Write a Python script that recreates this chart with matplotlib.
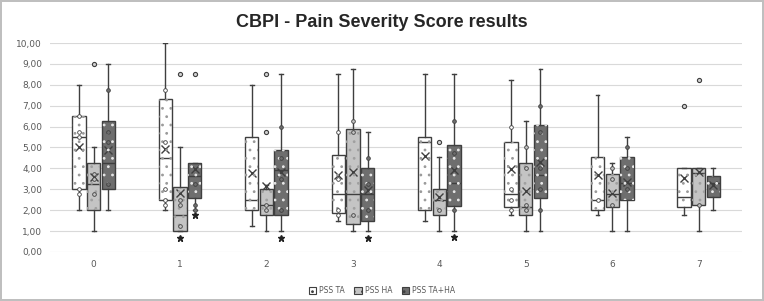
import matplotlib.pyplot as plt
from matplotlib.patches import Patch, Rectangle

# Categorias (sesiones) y series
categories = ["0", "1", "2", "3", "4", "5", "6", "7"]
series = ["PSS TA", "PSS HA", "PSS TA+HA"]

# Estadisticas: una lista por serie, un valor por categoria
q1 = {
    "PSS TA":    [3.0, 2.5, 2.0, 1.87, 2.0, 2.13, 2.0, 2.13],
    "PSS HA":    [2.0, 1.0, 1.75, 1.36, 1.75, 1.75, 2.13, 2.25],
    "PSS TA+HA": [3.0, 2.6, 1.75, 1.5, 2.19, 2.6, 2.5, 2.63],
}
median = {
    "PSS TA":    [5.5, 4.5, 2.5, 2.75, 5.28, 2.75, 2.5, 2.63],
    "PSS HA":    [3.25, 1.75, 2.25, 2.75, 2.5, 2.13, 2.75, 3.8],
    "PSS TA+HA": [4.25, 3.65, 3.9, 2.75, 3.28, 3.68, 3.3, 3.3],
}
q3 = {
    "PSS TA":    [6.5, 7.3, 5.5, 4.63, 5.5, 5.28, 4.53, 4.0],
    "PSS HA":    [4.25, 3.1, 3.0, 5.9, 3.0, 4.25, 3.75, 4.0],
    "PSS TA+HA": [6.25, 4.25, 4.9, 4.0, 5.13, 6.08, 4.53, 3.65],
}
whis_lo = {
    "PSS TA":    [2.0, 2.0, 1.25, 1.5, 1.5, 1.75, 1.75, 1.75],
    "PSS HA":    [1.0, 1.0, 1.0, 1.0, 1.0, 1.0, 1.0, 1.0],
    "PSS TA+HA": [2.0, 2.0, 1.0, 1.0, 1.0, 1.0, 1.0, 2.0],
}
whis_hi = {
    "PSS TA":    [8.0, 10.0, 8.0, 8.5, 8.5, 8.25, 7.5, 4.0],
    "PSS HA":    [5.0, 5.0, 3.2, 8.75, 4.55, 6.25, 4.25, 4.0],
    "PSS TA+HA": [9.0, 4.25, 8.5, 5.75, 8.5, 8.75, 5.5, 4.0],
}
mean = {
    "PSS TA":    [5.0, 4.95, 3.8, 3.7, 4.6, 3.95, 3.68, 3.52],
    "PSS HA":    [3.6, 2.83, 3.15, 3.84, 2.64, 2.93, 2.83, 3.84],
    "PSS TA+HA": [4.88, 3.95, 3.85, 2.96, 3.92, 4.29, 3.36, 3.2],
}
outliers = {
    "PSS TA":    [[], [], [], [], [], [], [], [7.0]],
    "PSS HA":    [[9.0], [8.5, 0.67], [8.5, 5.75], [], [5.25], [], [], [8.25]],
    "PSS TA+HA": [[], [8.5, 1.75], [0.66], [0.66], [0.7], [], [], []],
}
inner = {
    "PSS TA":    [[6.5, 5.75, 5.5, 3.0, 2.75], [7.75, 5.25, 3.0, 2.5, 2.25], [], [5.75, 3.5, 2.0, 1.75],
                  [], [6.0, 3.0, 2.5, 2.0], [2.5], []],
    "PSS HA":    [[3.75, 3.5, 2.75], [2.5, 2.25, 1.25], [2.0, 2.25], [6.25, 5.75, 1.75],
                  [2.0], [5.0, 4.0, 2.25, 2.0], [4.0, 3.5, 2.25], [2.25]],
    "PSS TA+HA": [[7.75, 5.75, 5.25, 3.25], [3.25, 2.25, 2.0], [6.0, 4.5, 3.5, 2.0], [4.5, 3.25, 2.0],
                  [6.25, 4.75, 2.0], [7.0, 5.75, 4.0, 3.0, 2.0], [5.0, 4.0, 3.0], []],
}

# Estilos
face = {"PSS TA": "#ffffff", "PSS HA": "#c4c4c4", "PSS TA+HA": "#6e6e6e"}
dots = {"PSS TA": "#9a9a9a", "PSS HA": "#a0a0a0", "PSS TA+HA": "#e6e6e6"}
edge = "#3f3f3f"
grid_color = "#d9d9d9"
text_color = "#595959"
offsets = [-0.17, 0.0, 0.17]
box_w = 0.155

plt.rcParams["hatch.linewidth"] = 0.8
fig = plt.figure(figsize=(7.64, 3.01), dpi=100)
fig.patch.set_edgecolor("#bfbfbf")
fig.patch.set_linewidth(1.5)
ax = fig.add_axes([0.066, 0.163, 0.905, 0.694])

for k, s in enumerate(series):
    stats = []
    for i in range(len(categories)):
        stats.append({
            "med": median[s][i], "q1": q1[s][i], "q3": q3[s][i],
            "whislo": whis_lo[s][i], "whishi": whis_hi[s][i],
            "mean": mean[s][i], "fliers": outliers[s][i],
        })
    pos = [i + offsets[k] for i in range(len(categories))]
    bp = ax.bxp(stats, positions=pos, widths=box_w, patch_artist=True, showmeans=True,
                capwidths=0.045, manage_ticks=False,
                boxprops=dict(facecolor=face[s], edgecolor=edge, linewidth=1.0),
                medianprops=dict(color=edge, linewidth=1.0),
                whiskerprops=dict(color=edge, linewidth=1.0),
                capprops=dict(color=edge, linewidth=1.0),
                meanprops=dict(marker="x", markeredgecolor=edge, markersize=5.5, markeredgewidth=1.0),
                flierprops=dict(marker="o", markerfacecolor="#d0d0d0", markeredgecolor=edge,
                                markersize=3, markeredgewidth=0.8))
    # puntos debajo del Q1 en forma de asterisco oscuro
    for fl, st in zip(bp["fliers"], stats):
        ys = fl.get_ydata()
        xs = fl.get_xdata()
        lo = [(x, y) for x, y in zip(xs, ys) if y < st["q1"]]
        hi = [(x, y) for x, y in zip(xs, ys) if y >= st["q1"]]
        fl.set_data([p[0] for p in hi], [p[1] for p in hi])
        if lo:
            ax.plot([p[0] for p in lo], [p[1] for p in lo], marker="*", color="#222222",
                    markersize=5, linestyle="none", zorder=4)
    # trama de puntos sobre cada caja
    for st, x in zip(stats, pos):
        ax.add_patch(Rectangle((x - box_w / 2, st["q1"]), box_w, st["q3"] - st["q1"],
                               facecolor="none", edgecolor=dots[s], hatch="..",
                               linewidth=0, zorder=2.5))
    # puntos interiores
    for i, vals in enumerate(inner[s]):
        if vals:
            ax.scatter([pos[i]] * len(vals), vals, s=7, facecolor=face[s], edgecolor=edge,
                       linewidth=0.6, zorder=4)

ax.set_xlim(-0.5, len(categories) - 0.5)
ax.set_ylim(0, 10)
ax.set_yticks(range(0, 11))
ax.set_yticklabels([f"{v:.2f}".replace(".", ",") for v in range(0, 11)])
ax.set_xticks(range(len(categories)))
ax.set_xticklabels(categories)
ax.tick_params(axis="both", length=0, labelsize=6.5, colors=text_color, pad=6)
ax.grid(axis="y", color=grid_color, linewidth=0.8)
ax.set_axisbelow(True)
for sp in ax.spines.values():
    sp.set_visible(False)

fig.text(0.5, 0.925, "CBPI - Pain Severity Score results", ha="center", va="center",
         fontsize=13, fontweight="bold", color="#262626", family="Liberation Sans")

handles = [Patch(facecolor=face[s], edgecolor=edge, hatch="..", linewidth=0.8) for s in series]
fig.legend(handles, series, loc="center", bbox_to_anchor=(0.5, 0.035), ncol=3, frameon=False,
           fontsize=5.5, labelcolor=text_color, handlelength=1.0, handleheight=1.0,
           handletextpad=0.4, columnspacing=1.2)

fig.savefig("out.png", dpi=100, edgecolor=fig.get_edgecolor())
